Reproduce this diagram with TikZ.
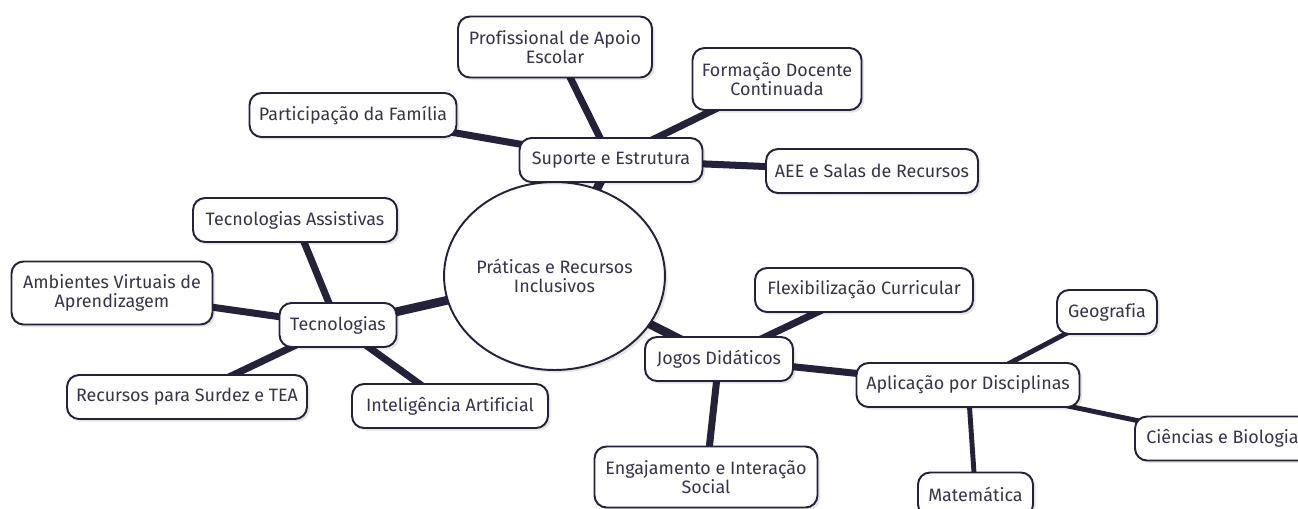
\documentclass[tikz,border=0pt]{standalone}
\usepackage{fontspec}
\setmainfont{Fira Sans}[Ligatures=NoCommon]
\usetikzlibrary{shapes.geometric,shadows,backgrounds}
\definecolor{mmline}{HTML}{24223A}
\definecolor{mmtext}{HTML}{35344A}
\begin{document}
\begin{tikzpicture}[x=0.02cm,y=-0.02cm,
	topic/.style={draw=mmline,line width=1.1pt,fill=white,rounded corners=0.24cm,
		minimum height=0.88cm,inner sep=0pt,align=center,text=mmtext,
		font=\fontsize{10.2pt}{10.6pt}\selectfont,
		drop shadow={shadow xshift=1.5pt,shadow yshift=-1.5pt,opacity=0.1,fill=black}},
	hub/.style={topic,ellipse,rounded corners=0pt,minimum width=3.5cm,minimum height=3.76cm},
	lvla/.style={mmline,line width=5pt},
	lvlb/.style={mmline,line width=4pt},
	lvlc/.style={mmline,line width=2.8pt}]
		\useasboundingbox (0,0) rectangle (1298,508);
		\node[hub] (root) at (554.5,276) {Práticas e Recursos\\Inclusivos};
		\node[topic,minimum width=3.66cm] (sup) at (611,160) {Suporte e Estrutura};
		\node[topic,minimum width=3.88cm,minimum height=1.22cm] (prof) at (555,47) {Profissional de Apoio\\Escolar};
		\node[topic,minimum width=4.14cm] (fam) at (353,115) {Participação da Família};
		\node[topic,minimum width=3.38cm,minimum height=1.24cm] (form) at (777,79) {Formação Docente\\Continuada};
		\node[topic,minimum width=4.24cm] (aee) at (872,171) {AEE e Salas de Recursos};
		\node[topic,minimum width=2.34cm] (tec) at (338,325) {Tecnologias};
		\node[topic,minimum width=4.08cm] (tass) at (295,220) {Tecnologias Assistivas};
		\node[topic,minimum width=4.02cm,minimum height=1.26cm] (avirt) at (112,293) {Ambientes Virtuais de\\Aprendizagem};
		\node[topic,minimum width=4.8cm] (surdez) at (187,397) {Recursos para Surdez e TEA};
		\node[topic,minimum width=3.92cm] (ia) at (450,406) {Inteligência Artificial};
		\node[topic,minimum width=2.96cm] (jogos) at (719,359) {Jogos Didáticos};
		\node[topic,minimum width=4.36cm] (flex) at (864,290) {Flexibilização Curricular};
		\node[topic,minimum width=4.46cm,minimum height=1.22cm] (engaj) at (706,477) {Engajamento e Interação\\Social};
		\node[topic,minimum width=4.46cm] (apl) at (968,385) {Aplicação por Disciplinas};
		\node[topic,minimum width=2.0cm] (geo) at (1107,312) {Geografia};
		\node[topic,minimum width=3.5cm] (cien) at (1222.5,438.5) {Ciências e Biologia};
		\node[topic,minimum width=2.3cm] (mat) at (975.5,494.5) {Matemática};
		\begin{scope}[on background layer]
		\draw[lvla] (root.center)--(sup.center) (root.center)--(tec.center) (root.center)--(jogos.center);
		\draw[lvlb] (sup.center)--(prof.center) (sup.center)--(fam.center) (sup.center)--(form.center) (sup.center)--(aee.center);
		\draw[lvlb] (tec.center)--(tass.center) (tec.center)--(avirt.center) (tec.center)--(surdez.center) (tec.center)--(ia.center);
		\draw[lvlb] (jogos.center)--(flex.center) (jogos.center)--(engaj.center) (jogos.center)--(apl.center);
		\draw[lvlc] (apl.center)--(geo.center) (apl.center)--(cien.center) (apl.center)--(mat.center);
		\end{scope}
\end{tikzpicture}
\end{document}
